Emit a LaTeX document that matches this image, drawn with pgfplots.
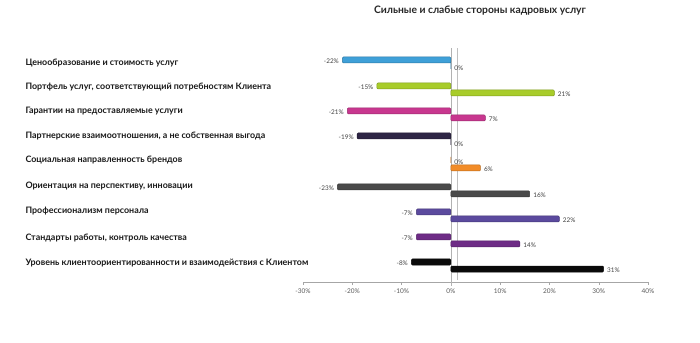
\documentclass[border=0pt]{standalone}
\usepackage{fontspec}
\setmainfont{Lato}
\usepackage{pgfplots}
\pgfplotsset{compat=1.18}
\definecolor{c1}{HTML}{3FA0D8}
\definecolor{c2}{HTML}{A8CC2A}
\definecolor{c3}{HTML}{C8378F}
\definecolor{c4}{HTML}{2D2444}
\definecolor{c5}{HTML}{F28C28}
\definecolor{c6}{HTML}{4A4A4A}
\definecolor{c7}{HTML}{5B4A9E}
\definecolor{c8}{HTML}{6E2C86}
\definecolor{c9}{HTML}{0A0A0A}
\pgfplotsset{mybar/.style={xbar, bar width=6pt, bar shift=0pt, line width=0.5pt,
  rounded corners=1pt,
  point meta=x,
  nodes near coords={\pgfmathprintnumber{\pgfplotspointmeta}\%},
  nodes near coords align={horizontal},
  every node near coord/.append style={font=\fontsize{6.4}{7}\selectfont, text=black!75, yshift=-1.5pt}}}
\begin{document}
\begin{tikzpicture}
\path[use as bounding box] (-303pt,-60pt) rectangle (397pt,282pt);
\begin{axis}[
  at={(0,0)}, anchor=south west,
  width=345pt, height=232pt, scale only axis,
  xmin=-30, xmax=40, ymin=60, ymax=292,
  axis x line*=bottom, axis y line*=left,
  y axis line style={draw=none},
  x axis line style={draw=gray!70},
  xtick={-30,-20,...,40},
  xticklabels={-30\%,-20\%,-10\%,0\%,10\%,20\%,30\%,40\%},
  xticklabel style={font=\fontsize{6.5}{7}\selectfont, text=black!65},
  x tick style={draw=gray!70},
  tick align=outside, major tick length=3pt,
  ytick={279,255,231,206,182,156,131,104,79},
  yticklabels={Ценообразование и стоимость услуг,
    {Портфель услуг, соответствующий потребностям Клиента},
    Гарантии на предоставляемые услуги,
    {Партнерские взаимоотношения, а не собственная выгода},
    Социальная направленность брендов,
    {Ориентация на перспективу, инновации},
    Профессионализм персонала,
    {Стандарты работы, контроль качества},
    Уровень клиентоориентированности и взаимодействия с Клиентом},
  yticklabel style={anchor=west, xshift=-278pt, font=\fontsize{8.9}{10}\selectfont\bfseries, text=black!90},
  y tick style={draw=none},
  title={Сильные и слабые стороны кадровых услуг},
  title style={at={(0.513,1)}, anchor=center, yshift=33pt, font=\fontsize{10.3}{12}\selectfont\bfseries, text=black!85},
  clip=false,
  /pgf/number format/assume math mode=true,
]
\addplot[draw=gray!60, line width=0.6pt, mark=none, forget plot] coordinates {(0,56) (0,294)};
\addplot[draw=gray!50, line width=0.6pt, mark=none, forget plot] coordinates {(1.3,62) (1.3,294)};
\addplot[mybar, fill=c1, draw=c1!75!black] coordinates {(-22,282) (0,275)};
\addplot[mybar, fill=c2, draw=c2!75!black] coordinates {(-15,256) (21,249)};
\addplot[mybar, fill=c3, draw=c3!75!black] coordinates {(-21,231) (7,224)};
\addplot[mybar, fill=c4, draw=c4!75!black] coordinates {(-19,206) (0,199)};
\addplot[mybar, fill=c5, draw=c5!75!black] coordinates {(0,181) (6,174)};
\addplot[mybar, fill=c6, draw=c6!75!black] coordinates {(-23,155) (16,148)};
\addplot[mybar, fill=c7, draw=c7!75!black] coordinates {(-7,130) (22,123)};
\addplot[mybar, fill=c8, draw=c8!75!black] coordinates {(-7,105) (14,98)};
\addplot[mybar, fill=c9, draw=c9] coordinates {(-8,80) (31,73)};
\end{axis}
\end{tikzpicture}
\end{document}
